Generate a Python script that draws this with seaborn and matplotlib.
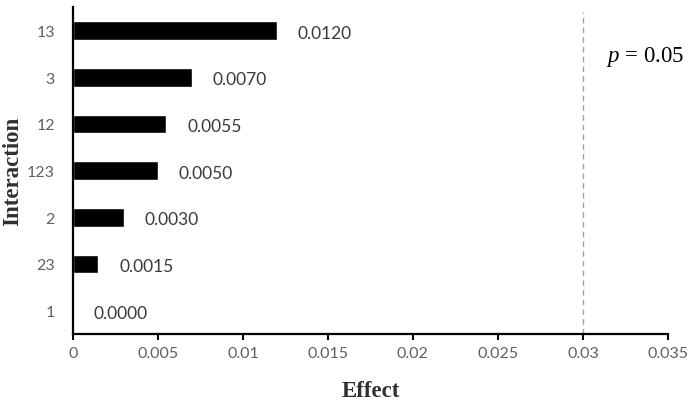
import pandas as pd
import matplotlib.pyplot as plt
import seaborn as sns

interactions = ["13", "3", "12", "123", "2", "23", "1"]
effects = [0.0120, 0.0070, 0.0055, 0.0050, 0.0030, 0.0015, 0.0000]
x_ticks = [0, 0.005, 0.01, 0.015, 0.02, 0.025, 0.03, 0.035]
x_tick_labels = ["0", "0.005", "0.01", "0.015", "0.02", "0.025", "0.03", "0.035"]
p_threshold = 0.03


def main():
    sns.set_theme(style="white")
    plt.rcParams["font.family"] = ["Lato", "DejaVu Sans"]
    plt.rcParams["mathtext.fontset"] = "custom"
    plt.rcParams["mathtext.it"] = "Liberation Serif:italic"
    plt.rcParams["mathtext.rm"] = "Liberation Serif"

    df = pd.DataFrame({"Interaction": interactions, "Effect": effects})

    fig = plt.figure(figsize=(6.95, 4.10), dpi=100)
    ax = fig.add_axes([0.105, 0.183, 0.856, 0.797])
    sns.barplot(data=df, x="Effect", y="Interaction", order=interactions,
                orient="h", color="black", width=0.4, ax=ax)

    for v, lbl in zip(effects, interactions):
        ax.annotate(f"{v:.4f}", xy=(v, lbl), xytext=(15, -1.5),
                    textcoords="offset points", ha="left", va="center",
                    fontsize=12.5, color="#3a3a3a")

    ax.axvline(p_threshold, ymin=0, ymax=0.985, color="#a0a0a0",
               lw=1, ls=(0, (4, 3)))
    fig.text(606 / 695, 1 - 57 / 410, "$p$ = 0.05", ha="left", va="center",
             fontsize=16.5, family=["Liberation Serif"], color="black")

    ax.set_xlim(0, 0.035)
    ax.set_ylim(6.5, -0.5)
    ax.set_xticks(x_ticks)
    ax.set_xticklabels(x_tick_labels)
    ax.tick_params(axis="x", direction="out", length=4, width=1.5,
                   color="black", labelsize=11.5, labelcolor="#606060", pad=5,
                   bottom=True)
    ax.tick_params(axis="y", length=0, labelsize=11.5, labelcolor="#606060",
                   pad=13)

    for side in ["top", "right"]:
        ax.spines[side].set_visible(False)
    for side in ["left", "bottom"]:
        ax.spines[side].set_color("black")
        ax.spines[side].set_linewidth(1.6)

    ax.set_xlabel("Effect", fontsize=16.5, fontweight="bold",
                  family=["Liberation Serif"], color="#303030", labelpad=14)
    ax.set_ylabel("Interaction", fontsize=16.5, fontweight="bold",
                  family=["Liberation Serif"], color="#303030")
    ax.yaxis.set_label_coords(-0.083, 0.5)

    fig.savefig("out.png", dpi=100)
    plt.close(fig)


if __name__ == "__main__":
    main()
